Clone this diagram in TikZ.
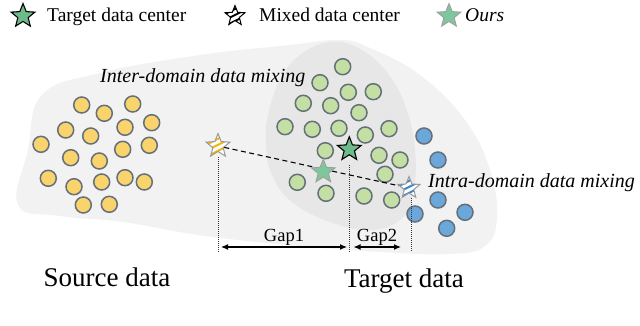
\documentclass[tikz,border=0pt]{standalone}
\usepackage{fontspec}
\setmainfont{Liberation Serif}
\usetikzlibrary{shapes.geometric,arrows.meta,calc}
\definecolor{yel}{HTML}{F9D36B}
\definecolor{grn}{HTML}{C4DFA3}
\definecolor{blu}{HTML}{6BA7DA}
\definecolor{edgec}{HTML}{65707A}
\definecolor{starg}{HTML}{6DBB8B}
\definecolor{oursg}{HTML}{7FC69C}
\definecolor{blobA}{HTML}{F2F2F2}
\definecolor{blobB}{HTML}{E7E7E7}
\definecolor{stripeY}{HTML}{F2B70F}
\definecolor{stripeB}{HTML}{3F86C9}
\begin{document}
\begin{tikzpicture}[x=1pt,y=-1pt,
  dot/.style={circle, draw=edgec, line width=1.5pt, minimum size=16pt, inner sep=0pt},
  ydot/.style={dot, fill=yel},
  gdot/.style={dot, fill=grn},
  bdot/.style={dot, fill=blu},
  starbase/.style={star, star points=5, star point ratio=2.3, inner sep=0pt, minimum size=#1},
  tstarst/.style={starbase=25pt, fill=starg, draw=black, line width=1.1pt},
  ostarst/.style={starbase=25pt, fill=oursg, draw=gray!75, line width=0.9pt},
  mixst/.style 2 args={starbase=23pt, fill=white, draw=#1, line width=1pt,
    path picture={\foreach \d in {-6,0,6}{\draw[#2, line width=2pt] ($(path picture bounding box.center)+(-14,\d+7)$) -- ++(28,-14);}}},
  lbl/.style={font=\fontsize{19.5}{22}\selectfont, inner sep=0pt, anchor=base west},
  itl/.style={font=\fontsize{20}{22}\selectfont\itshape, inner sep=0pt, anchor=base west},
  big/.style={font=\fontsize{27}{30}\selectfont, inner sep=0pt, anchor=base},
  gapl/.style={font=\fontsize{18.5}{20}\selectfont, inner sep=0pt, anchor=base},
  vline/.style={draw=black!80, line width=0.8pt, dash pattern=on 1pt off 1pt},
  gaparrow/.style={line width=1.2pt, {Latex[length=7pt,width=6pt]}-{Latex[length=7pt,width=6pt]}},
  mixline/.style={line width=1.1pt, dash pattern=on 5pt off 3.5pt}
]
\useasboundingbox (0,0) rectangle (640,326);
% background blobs
\fill[blobA] plot[smooth cycle, tension=0.7] coordinates {(18,205) (60,216) (123,222) (205,236) (300,246) (380,252) (450,254) (485,246) (497,218) (490,170) (465,120) (420,75) (370,48) (340,40) (290,45) (200,55) (100,73) (42,95) (28,150)};
\fill[blobB] plot[smooth cycle, tension=0.7] coordinates {(330,42) (300,55) (280,80) (268,115) (266,145) (272,175) (292,202) (330,222) (370,230) (400,220) (413,195) (415,150) (405,105) (385,70) (358,48)};
% legend
\node[tstarst] (lt) at (23,16) {};
\node[lbl] (ltt) at (47,22) {Target data center};
\node[mixst={black}{black}, starbase=21pt] (lm) at (235,16) {};
\node[lbl] (lmt) at (259,22) {Mixed data center};
\node[ostarst] (lo) at (449,16) {};
\node[lbl] (lot) at (465,22) {\itshape Ours};
% source dots
\foreach \x/\y [count=\i] in {81.7/105,104.3/113.3,132.7/104,65.7/130,90.7/136,125/127.3,151.7/122.7,41/144.3,70.7/157.7,99.3/161,122.7/149.3,149.3/145.3,48.3/178.3,74/186.7,101.7/182,125/177.7,144.3/182,83.3/205,109.3/204.3}
  \node[ydot] (s\i) at (\x,\y) {};
% target dots
\foreach \x/\y [count=\i] in {342.7/66.7,320/82.7,348.3/92.3,373.3/91.7,303.3/103.3,330.7/105.7,359/112.7,285/126.7,312.3/129.3,339/128.3,365.3/135,389/128.7,325.3/150.7,379/155.3,400/160,385/174.3,297.3/182.3,326/193.3,364/196,391.7/200}
  \node[gdot] (t\i) at (\x,\y) {};
\foreach \x/\y [count=\i] in {424/136,438/160,415/214,438/200,465/212.3,446.7/228.3}
  \node[bdot] (b\i) at (\x,\y) {};
% stars
\node[mixst={gray!80}{stripeY}, starbase=25pt] (ystar) at (218,146) {};
\node[mixst={gray!80}{stripeB}] (bstar) at (409,188) {};
\draw[mixline] (ystar) -- (bstar);
\node[tstarst] (tstar) at (349.3,149.3) {};
\node[ostarst] (ostar) at (323.3,171.7) {};
% texts
\node[itl] (inter) at (100,83) {Inter-domain data mixing};
\node[itl] (intra) at (428,187) {Intra-domain data mixing};
\node[big] (src) at (107,286) {Source data};
\node[big] (tgt) at (404,287) {Target data};
% gap lines
\coordinate (yb) at (218.5,252);
\coordinate (tb) at (349.5,252);
\coordinate (bb) at (411.5,252);
\draw[vline] ($(ystar)+(0.5,11)$) -- (yb);
\draw[vline] ($(tstar)+(0.2,16)$) -- (tb);
\draw[vline] ($(bstar)+(2.5,10)$) -- (bb);
\coordinate (g1a) at (221,247);
\coordinate (g1b) at (347,247);
\coordinate (g2a) at (353.5,247);
\coordinate (g2b) at (401,247);
\draw[gaparrow] (g1a) -- (g1b);
\draw[gaparrow] (g2a) -- (g2b);
\node[gapl] (gap1) at (284,241) {Gap1};
\node[gapl] (gap2) at (377,241) {Gap2};
\end{tikzpicture}
\end{document}
